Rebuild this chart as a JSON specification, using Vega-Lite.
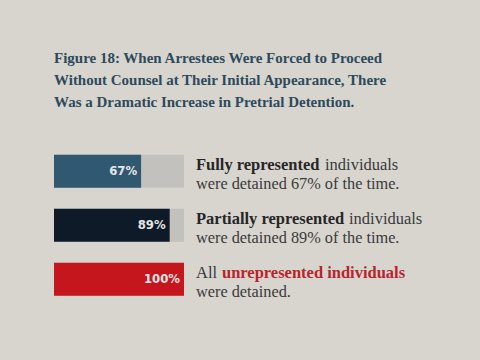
{
  "$schema": "https://vega.github.io/schema/vega-lite/v6.json",
  "autosize": {"type": "none"},
  "width": 130,
  "height": {"step": 54},
  "padding": {"left": 54, "top": 144, "right": 296, "bottom": 54},
  "background": "#d8d5cf",
  "config": {"view": {"stroke": null}},
  "title": {
    "text": ["Figure 18: When Arrestees Were Forced to Proceed", "Without Counsel at Their Initial Appearance, There", "Was a Dramatic Increase in Pretrial Detention."],
    "anchor": "start",
    "frame": "group",
    "font": "Liberation Serif",
    "fontSize": 15,
    "fontWeight": "bold",
    "color": "#2d4a5c",
    "lineHeight": 22,
    "offset": 34
  },
  "data": {"values": [
    {"group": "Fully represented", "value": 67, "pct": "67%", "pre": "", "bold": "Fully represented", "post": "individuals", "line2": "were detained 67% of the time."},
    {"group": "Partially represented", "value": 89, "pct": "89%", "pre": "", "bold": "Partially represented", "post": "individuals", "line2": "were detained 89% of the time."},
    {"group": "Unrepresented", "value": 100, "pct": "100%", "pre": "All", "bold": "unrepresented individuals", "post": "", "line2": "were detained."}
  ]},
  "encoding": {
    "y": {"field": "group", "type": "nominal", "sort": null, "axis": null, "scale": {"paddingInner": 0.39, "paddingOuter": 0.2}}
  },
  "layer": [
    {
      "mark": {"type": "bar", "color": "#c2c1be"},
      "encoding": {
        "x": {"datum": 100, "type": "quantitative", "scale": {"domain": [0, 100]}, "axis": null}
      }
    },
    {
      "mark": {"type": "bar"},
      "encoding": {
        "x": {"field": "value", "type": "quantitative"},
        "color": {"field": "group", "type": "nominal", "legend": null, "scale": {"domain": ["Fully represented", "Partially represented", "Unrepresented"], "range": ["#305871", "#0f1a28", "#c6161d"]}}
      }
    },
    {
      "mark": {"type": "text", "align": "right", "baseline": "middle", "dx": -4, "font": "DejaVu Sans Condensed, Liberation Sans Narrow, sans-serif", "fontWeight": "bold", "fontSize": 13, "color": "#e6e6e6"},
      "encoding": {"x": {"field": "value", "type": "quantitative"}, "text": {"field": "pct"}}
    },
    {
      "transform": [{"filter": "datum.pre == ''"}],
      "mark": {"type": "text", "align": "left", "baseline": "middle", "dx": 12, "dy": -6, "font": "Liberation Serif", "fontWeight": "bold", "fontSize": 16.5, "color": "#262626"},
      "encoding": {"x": {"datum": 100, "type": "quantitative"}, "text": {"field": "bold"}}
    },
    {
      "transform": [{"filter": "datum.group == 'Fully represented'"}],
      "mark": {"type": "text", "align": "left", "baseline": "middle", "dx": 141, "dy": -6, "font": "Liberation Serif", "fontSize": 16.5, "color": "#3a3a3a"},
      "encoding": {"x": {"datum": 100, "type": "quantitative"}, "text": {"field": "post"}}
    },
    {
      "transform": [{"filter": "datum.group == 'Partially represented'"}],
      "mark": {"type": "text", "align": "left", "baseline": "middle", "dx": 165, "dy": -6, "font": "Liberation Serif", "fontSize": 16.5, "color": "#3a3a3a"},
      "encoding": {"x": {"datum": 100, "type": "quantitative"}, "text": {"field": "post"}}
    },
    {
      "transform": [{"filter": "datum.pre != ''"}],
      "mark": {"type": "text", "align": "left", "baseline": "middle", "dx": 12, "dy": -6, "font": "Liberation Serif", "fontSize": 16.5, "color": "#3a3a3a"},
      "encoding": {"x": {"datum": 100, "type": "quantitative"}, "text": {"field": "pre"}}
    },
    {
      "transform": [{"filter": "datum.pre != ''"}],
      "mark": {"type": "text", "align": "left", "baseline": "middle", "dx": 38, "dy": -6, "font": "Liberation Serif", "fontWeight": "bold", "fontSize": 16.5, "color": "#b8242b"},
      "encoding": {"x": {"datum": 100, "type": "quantitative"}, "text": {"field": "bold"}}
    },
    {
      "mark": {"type": "text", "align": "left", "baseline": "middle", "dx": 12, "dy": 13, "font": "Liberation Serif", "fontSize": 16.3, "color": "#3a3a3a"},
      "encoding": {"x": {"datum": 100, "type": "quantitative"}, "text": {"field": "line2"}}
    }
  ]
}
